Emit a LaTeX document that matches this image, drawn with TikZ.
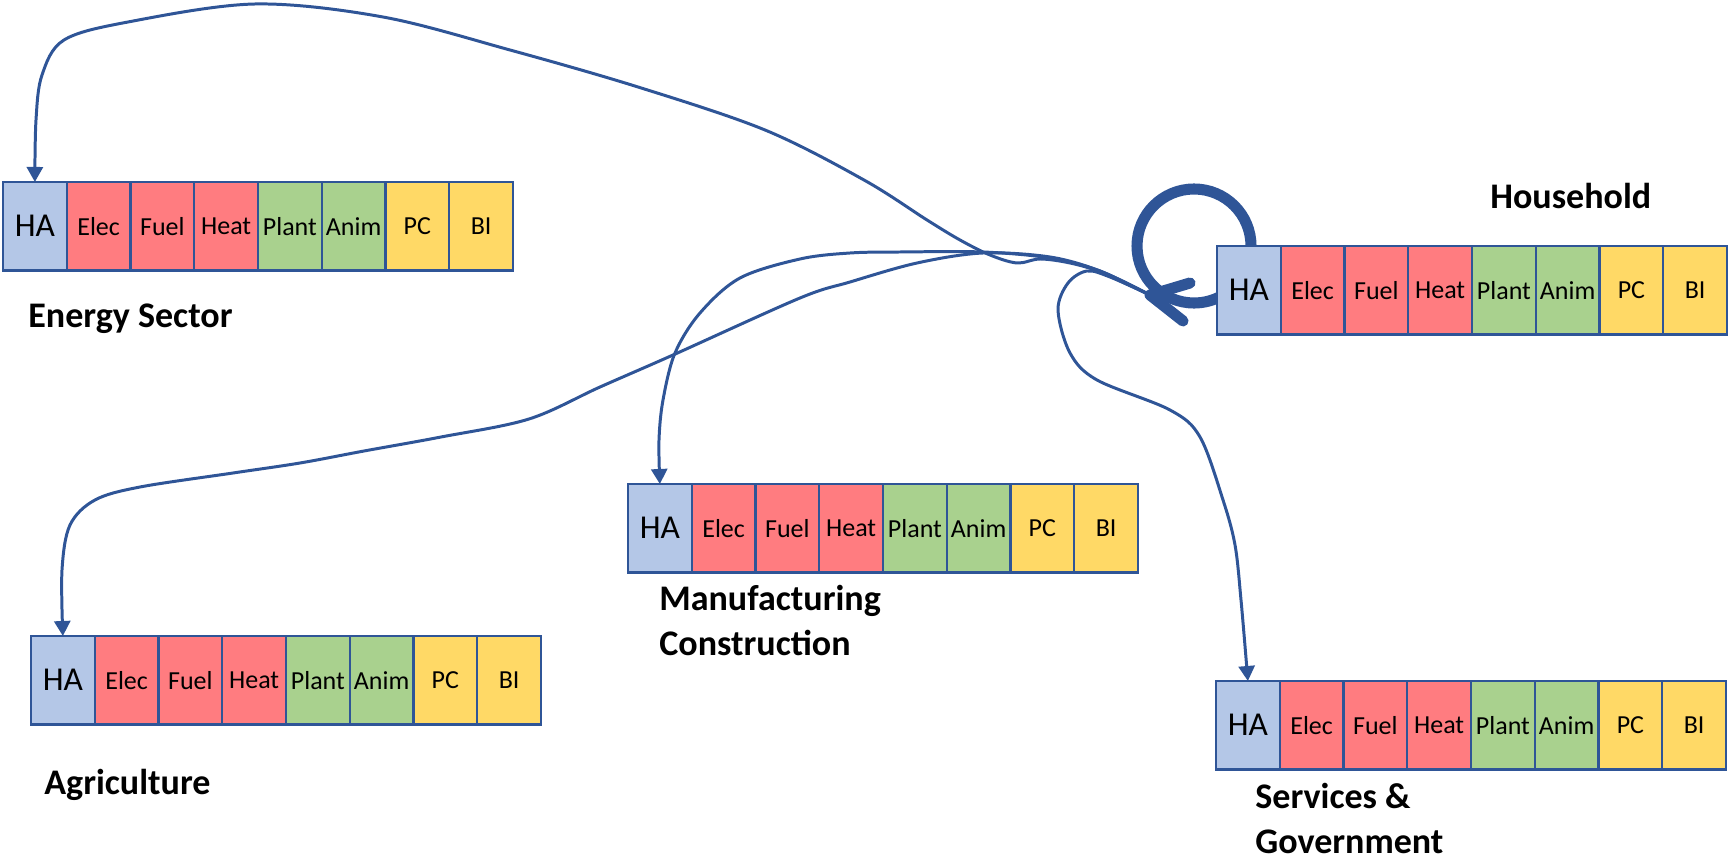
\documentclass[tikz,border=0pt]{standalone}
\usepackage{fontspec}
\setmainfont{Carlito}
\usetikzlibrary{
  arrows.meta,   % Triangle tips on the flows
  calc,          % offsets from named points
  positioning    % cells placed next to one another
}
\definecolor{hablue}{HTML}{B4C7E7}
\definecolor{energyred}{HTML}{FF7C80}
\definecolor{biogreen}{HTML}{A9D18E}
\definecolor{prodyellow}{HTML}{FFD966}
\definecolor{linkblue}{HTML}{2F5597}
\pgfdeclarelayer{background}
\pgfsetlayers{background,main}
\tikzset{
  cell/.style={
    rectangle,
    draw=linkblue,
    line width=1.3pt,
    minimum width=12.75mm,
    minimum height=17.7mm,
    inner sep=0pt,
    outer sep=0pt,
    font=\fontsize{14.8}{17}\selectfont
  },
  ha cell/.style={
    cell,
    fill=hablue,
    font=\fontsize{19}{22}\selectfont
  },
  sector label/.style={
    anchor=base west,
    align=left,
    inner sep=0pt,
    font=\fontsize{20.5}{25.6}\selectfont\bfseries
  },
  flow/.style={
    draw=linkblue,
    line width=1.7pt,
    -{Triangle[length=3mm, width=3.2mm]}
  },
  self flow/.style={
    draw=linkblue,
    line width=6.3pt,
    line cap=round,
    line join=round
  }
}
% one sector: HA cell, then seven cells to its right
\newcommand{\sectorrow}[2]{%
  \node[ha cell, anchor=north west] (#1-HA) at (#2) {HA};
  \foreach \lbl/\col [remember=\lbl as \prev (initially HA)] in
    {Elec/energyred, Fuel/energyred, Heat/energyred, Plant/biogreen,
     Anim/biogreen, PC/prodyellow, BI/prodyellow}
    \node[cell, fill=\col, right=0pt of #1-\prev] (#1-\lbl) {\lbl};
}

\begin{document}
\begin{tikzpicture}[x=0.2mm, y=-0.2mm]
  \useasboundingbox (0,0) rectangle (1729,859);

  % sector rows
  \sectorrow{es}{3,182}
  \sectorrow{hh}{1217,246}
  \sectorrow{mf}{628,484}
  \sectorrow{ag}{31,636}
  \sectorrow{sv}{1216,681}

  % sector names (two-line names sit on their last line)
  \node[sector label] (esName) at (28,328) {Energy Sector};
  \node[sector label] (hhName) at (1490,209) {Household};
  \node[sector label] (mfName) at (659,655) {Manufacturing\\Construction};
  \node[sector label] (agName) at (44,794) {Agriculture};
  \node[sector label] (svName) at (1255,853) {Services \&\\Government};

  % where the flows leave the household
  \coordinate (hub) at (1150,295);

  % household back to itself
  \begin{pgfonlayer}{background}
    \draw[self flow] ([xshift=6.8mm]hh-HA.north west)
      arc[start angle=0, end angle=300, radius=11.4mm];
  \end{pgfonlayer}
  \draw[self flow] ($(hub)+(40,-12)$) -- (hub) -- ($(hub)+(33,26)$);

  % household to the other sectors
  \draw[flow] plot[smooth, tension=0.55] coordinates {(hub) (1100,272)
    (1070,263) (1040,259) (1017,263) (990,255) (960,240) (927,220)
    (864,180) (765,130) (638,87) (510,50) (383,17) (255,4) (128,22)
    (64,40) (42,75) (36,120) (es-HA.north)};
  \draw[flow] plot[smooth, tension=0.55] coordinates {(hub) (1100,271)
    (1050,258) (983,252) (900,252) (850,253) (800,259) (740,278)
    (700,313) (675,353) (663,400) (659,440) (mf-HA.north)};
  \draw[flow] plot[smooth, tension=0.55] coordinates {(hub) (1100,271)
    (1050,257) (983,253) (917,263) (850,282) (800,298) (673,355)
    (600,387) (529,419) (441,437) (364,451) (300,463) (233,473)
    (140,487) (95,500) (70,525) (62,570) (ag-HA.north)};
  \draw[flow] plot[smooth, tension=0.55] coordinates {(hub) (1110,277)
    (1087,271) (1068,283) (1058,310) (1070,353) (1097,380) (1170,410)
    (1200,437) (1223,500) (1235,545) (1241,600) (sv-HA.north)};
\end{tikzpicture}
\end{document}
